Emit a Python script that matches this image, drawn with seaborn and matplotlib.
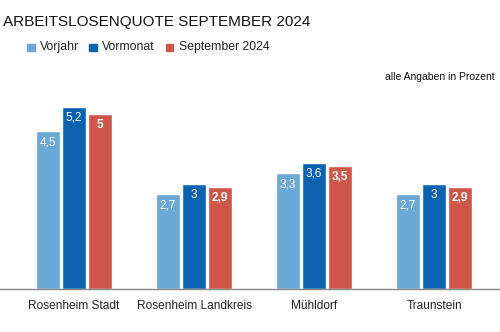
import matplotlib
matplotlib.use("Agg")
import matplotlib.pyplot as plt
import seaborn as sns
import pandas as pd

regions = ["Rosenheim Stadt", "Rosenheim Landkreis", "Mühldorf", "Traunstein"]
series = ["Vorjahr", "Vormonat", "September 2024"]
vorjahr = [4.5, 2.7, 3.3, 2.7]
vormonat = [5.2, 3.0, 3.6, 3.0]
september = [5.0, 2.9, 3.5, 2.9]
colors = ["#6aa9d6", "#0b63b0", "#cf574a"]

df = pd.DataFrame({
    "Region": regions * 3,
    "Reihe": [s for s in series for _ in regions],
    "Wert": vorjahr + vormonat + september,
})

sns.set_theme(style="white")
plt.rcParams["font.family"] = ["Liberation Sans", "DejaVu Sans"]

fig = plt.figure(figsize=(5.0, 3.32), dpi=100)
ax = fig.add_axes([0.0, 0.1295, 1.0, 0.57])

sns.barplot(data=df, x="Region", y="Wert", hue="Reihe", order=regions,
            hue_order=series, palette=colors, width=0.65, gap=0.077,
            saturation=1, ax=ax, legend=False)

ax.set_xlim(-0.617, 3.55)
ax.set_ylim(0, 5.4)
ax.set_xlabel("")
ax.set_ylabel("")
ax.set_yticks([])
ax.tick_params(axis="x", length=0, labelsize=8.6, pad=8, colors="#222222")
for side in ["top", "left", "right"]:
    ax.spines[side].set_visible(False)
ax.spines["bottom"].set_color("#888888")
ax.spines["bottom"].set_linewidth(1.0)

def fmt(v):
    return ("%g" % v).replace(".", ",")

for i, cont in enumerate(ax.containers):
    bold = i == 2
    for bar in cont:
        v = bar.get_height()
        ax.annotate(fmt(v), (bar.get_x() + bar.get_width() / 2, v),
                    xytext=(0, -8), textcoords="offset points",
                    ha="center", va="center", color="white",
                    fontsize=8.5, fontweight="bold" if bold else "normal")

fig.text(0.006, 0.935, "ARBEITSLOSENQUOTE SEPTEMBER 2024", fontsize=11,
         color="#111111", va="center", ha="left")

# legend row
lx = [0.054, 0.178, 0.331]
for x, name, c in zip(lx, series, colors):
    fig.patches.append(plt.Rectangle((x, 0.845), 0.015, 0.023,
                                     transform=fig.transFigure, color=c))
    fig.text(x + 0.026, 0.857, name, fontsize=8.8, color="#222222",
             va="center", ha="left")

fig.text(0.99, 0.768, "alle Angaben in Prozent", fontsize=7.5,
         color="#111111", va="center", ha="right")

fig.savefig("out.png", dpi=100, facecolor="white")
